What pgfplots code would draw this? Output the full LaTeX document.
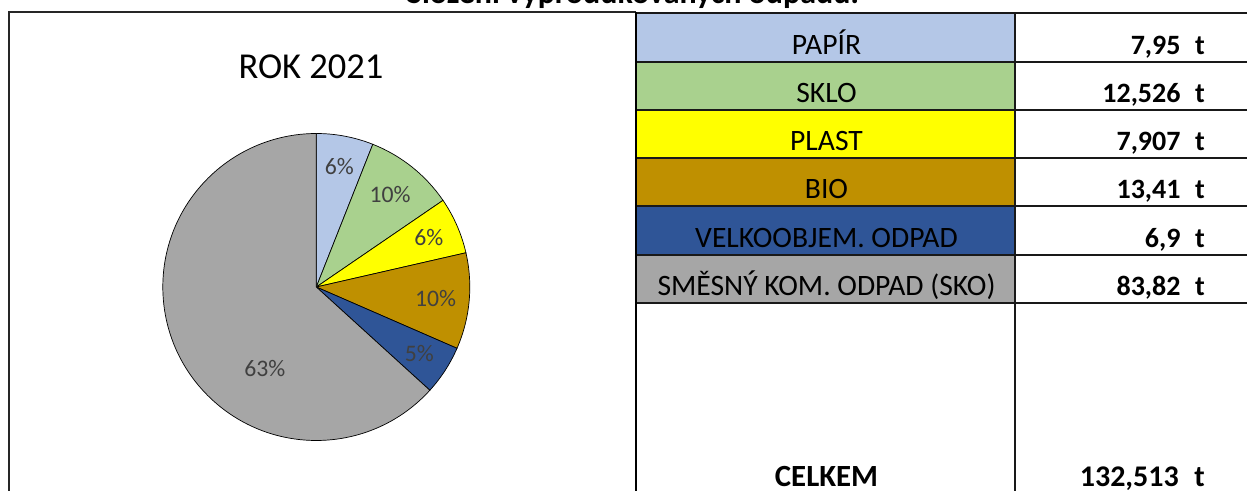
\documentclass[border=0pt]{standalone}
\usepackage{fontspec}
\setmainfont{Carlito}
\usepackage{pgfplots}
\pgfplotsset{compat=1.18}
\definecolor{cPapir}{HTML}{B4C7E7}
\definecolor{cSklo}{HTML}{A9D18E}
\definecolor{cPlast}{HTML}{FFFF00}
\definecolor{cBio}{HTML}{BF9000}
\definecolor{cVelko}{HTML}{2F5597}
\definecolor{cSko}{HTML}{A6A6A6}
\definecolor{pctgray}{HTML}{404040}
% data (tonnes)
\def\vA{7.95}
\def\vB{12.526}
\def\vC{7.907}
\def\vD{13.41}
\def\vE{6.9}
\def\vF{83.82}
\pgfmathsetmacro\tot{\vA+\vB+\vC+\vD+\vE+\vF}
\pgfmathsetmacro\fA{\vA/\tot}
\pgfmathsetmacro\fB{\vB/\tot}
\pgfmathsetmacro\fC{\vC/\tot}
\pgfmathsetmacro\fD{\vD/\tot}
\pgfmathsetmacro\fE{\vE/\tot}
\pgfmathsetmacro\fF{\vF/\tot}
\pgfmathsetmacro\aO{90}
\pgfmathsetmacro\aA{\aO-360*\fA}
\pgfmathsetmacro\aB{\aA-360*\fB}
\pgfmathsetmacro\aC{\aB-360*\fC}
\pgfmathsetmacro\aD{\aC-360*\fD}
\pgfmathsetmacro\aE{\aD-360*\fE}
\pgfmathsetmacro\aF{\aE-360*\fF}
\pgfmathsetmacro\mA{(\aO+\aA)/2}
\pgfmathsetmacro\mB{(\aA+\aB)/2}
\pgfmathsetmacro\mC{(\aB+\aC)/2}
\pgfmathsetmacro\mD{(\aC+\aD)/2}
\pgfmathsetmacro\mE{(\aD+\aE)/2}
\newcommand\labfont{\fontsize{29.6}{34}\selectfont}
\newcommand\valfont{\fontsize{28}{33}\selectfont\bfseries}
\newcommand\tu{\hspace{0.52em}t}
\newcommand\trow[4]{%
  \pgfmathsetmacro\yt{476.7-48.25*#1}%
  \pgfmathsetmacro\yb{\yt-48.25}%
  \fill[#2] (637,\yb) rectangle (1015,\yt);
  \node[anchor=base,inner sep=0,font=\labfont] at (826.5,\yb+7.5) {#3};
  \node[anchor=base east,inner sep=0,font=\valfont] at (1205,\yb+7.5) {#4\tu};
}
\begin{document}
\begin{tikzpicture}[x=1pt,y=1pt]
\useasboundingbox (0,0) rectangle (1247,490);
\clip (0,0) rectangle (1247,490);
% page title (cut at top)
\node[anchor=base,inner sep=0,font=\fontsize{32}{38}\selectfont\bfseries] at (633,486) {Složení vyprodukovaných odpadů:};
% chart area frame
\draw[line width=1.3pt,black!85] (9,-5) -- (9,478) -- (636,478);
% chart title
\node[anchor=base,inner sep=0,font=\fontsize{36.5}{43}\selectfont] at (311,411.7) {ROK 2021};
% pie
\begin{axis}[hide axis, scale only axis, width=307pt, height=307pt,
  xmin=-1, xmax=1, ymin=-1, ymax=1, at={(316.3pt,203pt)}, anchor=center, clip=false]
\filldraw[fill=cPapir,draw=black,line width=0.7pt] (axis cs:0,0) -- (axis cs:{cos(\aO)},{sin(\aO)}) arc[start angle=\aO,end angle=\aA,radius=153.5pt] -- cycle;
\filldraw[fill=cSklo,draw=black,line width=0.7pt] (axis cs:0,0) -- (axis cs:{cos(\aA)},{sin(\aA)}) arc[start angle=\aA,end angle=\aB,radius=153.5pt] -- cycle;
\filldraw[fill=cPlast,draw=black,line width=0.7pt] (axis cs:0,0) -- (axis cs:{cos(\aB)},{sin(\aB)}) arc[start angle=\aB,end angle=\aC,radius=153.5pt] -- cycle;
\filldraw[fill=cBio,draw=black,line width=0.7pt] (axis cs:0,0) -- (axis cs:{cos(\aC)},{sin(\aC)}) arc[start angle=\aC,end angle=\aD,radius=153.5pt] -- cycle;
\filldraw[fill=cVelko,draw=black,line width=0.7pt] (axis cs:0,0) -- (axis cs:{cos(\aD)},{sin(\aD)}) arc[start angle=\aD,end angle=\aE,radius=153.5pt] -- cycle;
\filldraw[fill=cSko,draw=black,line width=0.7pt] (axis cs:0,0) -- (axis cs:{cos(\aE)},{sin(\aE)}) arc[start angle=\aE,end angle=\aF,radius=153.5pt] -- cycle;
\begin{scope}[every node/.style={text=pctgray,font=\fontsize{23.7}{28}\selectfont,inner sep=0}]
\node at (axis cs:{0.8*cos(\mA)},{0.8*sin(\mA)}) {6\%};
\node at (axis cs:{0.77*cos(\mB)},{0.77*sin(\mB)}) {10\%};
\node at (axis cs:{0.8*cos(\mC)},{0.8*sin(\mC)}) {6\%};
\node at (axis cs:{0.78*cos(\mD)},{0.78*sin(\mD)}) {10\%};
\node at (axis cs:{0.8*cos(\mE)},{0.8*sin(\mE)}) {5\%};
\node at (axis cs:{0.63*cos(237.9)},{0.63*sin(237.9)}) {63\%};
\end{scope}
\end{axis}
% table
\trow{0}{cPapir}{PAPÍR}{7,95}
\trow{1}{cSklo}{SKLO}{12,526}
\trow{2}{cPlast}{PLAST}{7,907}
\trow{3}{cBio}{BIO}{13,41}
\trow{4}{cVelko}{VELKOOBJEM. ODPAD}{6,9}
\trow{5}{cSko}{SMĚSNÝ KOM. ODPAD (SKO)}{83,82}
\foreach \k in {0,...,6} {
  \draw[line width=2pt,black!90] (636,476.7-48.25*\k) -- (1250,476.7-48.25*\k);
}
\draw[line width=2pt,black!90] (1015,477.7) -- (1015,-5);
\draw[line width=2.6pt,black] (636,478) -- (636,-5);
\node[anchor=base,inner sep=0,font=\fontsize{30.8}{36}\selectfont\bfseries] at (826.5,3.3) {CELKEM};
\node[anchor=base east,inner sep=0,font=\fontsize{30}{36}\selectfont\bfseries] at (1205,3.3) {132,513\tu};
\end{tikzpicture}
\end{document}
